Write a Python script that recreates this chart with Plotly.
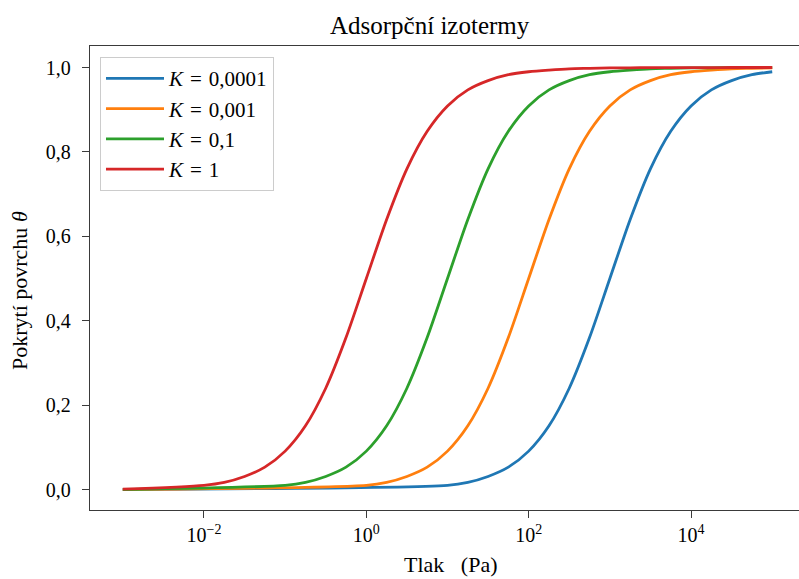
import plotly.graph_objects as go

# pressure grid (Pa), quarter-decade steps from 1e-2 to 1e5
grid = [0.01, 0.0178, 0.0316, 0.0562, 0.1, 0.178, 0.316, 0.562,
        1, 1.78, 3.16, 5.62, 10, 17.8, 31.6, 56.2,
        100, 178, 316, 562, 1000, 1780, 3160, 5620,
        10000, 17800, 31600, 56200, 100000]

p_blue = [0.001] + grid[12:]
p_orange = [0.001] + grid[8:]
p_green = [0.001] + grid[4:]
p_red = [0.001] + grid

theta_blue = [0.0, 0.010, 0.017, 0.031, 0.053, 0.091, 0.151, 0.240, 0.360,
              0.500, 0.640, 0.760, 0.849, 0.909, 0.947, 0.969, 0.983, 0.990]
theta_orange = [0.0, 0.010, 0.017, 0.031, 0.053, 0.091, 0.151, 0.240, 0.360,
                0.500, 0.640, 0.760, 0.849, 0.909, 0.947, 0.969, 0.983, 0.990,
                0.994, 0.997, 0.998, 0.999]
theta_green = [0.0, 0.010, 0.017, 0.031, 0.053, 0.091, 0.151, 0.240, 0.360,
               0.500, 0.640, 0.760, 0.849, 0.909, 0.947, 0.969, 0.983, 0.990,
               0.994, 0.997, 0.998, 0.999, 0.9994, 0.9997, 0.9998, 0.9999]
theta_red = [0.001, 0.010, 0.017, 0.031, 0.053, 0.091, 0.151, 0.240, 0.360,
             0.500, 0.640, 0.760, 0.849, 0.909, 0.947, 0.969, 0.983, 0.990,
             0.994, 0.997, 0.998, 0.999, 0.9994, 0.9997, 0.9998, 0.9999,
             0.9999, 1.0, 1.0, 1.0]

labels = ["<i>K</i>\u2004=\u20040,0001", "<i>K</i>\u2004=\u20040,001",
          "<i>K</i>\u2004=\u20040,1", "<i>K</i>\u2004=\u20041"]
colors = ["#1f77b4", "#ff7f0e", "#2ca02c", "#d62728"]

x_tickvals = [1e-2, 1, 1e2, 1e4]
x_ticktext = ["10<sup>−2</sup>", "10<sup>0</sup>", "10<sup>2</sup>", "10<sup>4</sup>"]
y_tickvals = [0, 0.2, 0.4, 0.6, 0.8, 1.0]
y_ticktext = ["0,0", "0,2", "0,4", "0,6", "0,8", "1,0"]

FONT = "Liberation Serif"
fig = go.Figure()
for i, (p, th) in enumerate([(p_blue, theta_blue), (p_orange, theta_orange),
                             (p_green, theta_green), (p_red, theta_red)]):
    fig.add_trace(go.Scatter(x=p, y=th, mode="lines", name=labels[i],
                             legendgroup=str(i),
                             line=dict(color=colors[i], width=2.8, shape="spline", smoothing=0.8)))

axis_col = "#3a3a3a"
fig.update_layout(
    width=799, height=579,
    margin=dict(l=90, r=0, t=46, b=69),
    paper_bgcolor="white", plot_bgcolor="white",
    font=dict(family=FONT, size=20, color="black"),
    showlegend=True,
    legend=dict(x=0.0141, y=0.976, xanchor="left", yanchor="top",
                bgcolor="white", bordercolor="#cccccc", borderwidth=1,
                font=dict(family=FONT, size=21), tracegroupgap=0,
                itemwidth=58),
    xaxis=dict(type="log", range=[-3.404, 5.33], showgrid=False, zeroline=False,
               showline=True, linecolor=axis_col, linewidth=1.3, mirror=True,
               ticks="outside", ticklen=7, tickwidth=1.2, tickcolor=axis_col,
               tickvals=x_tickvals, ticktext=x_ticktext,
               tickfont=dict(family=FONT, size=20)),
    yaxis=dict(range=[-0.0485, 1.051], showgrid=False, zeroline=False,
               showline=True, linecolor=axis_col, linewidth=1.3, mirror=False,
               ticks="outside", ticklen=7, tickwidth=1.2, tickcolor=axis_col,
               tickvals=y_tickvals, ticktext=y_ticktext, ticklabelstandoff=7,
               tickfont=dict(family=FONT, size=20)),
    annotations=[
        dict(text="Adsorpční izotermy", xref="paper", yref="paper",
             x=0.4795, y=1.045, xanchor="center", yanchor="middle",
             showarrow=False, font=dict(family=FONT, size=25)),
        dict(text="Tlak\u2002 (Pa)", xref="paper", yref="paper",
             x=0.508, y=-0.1185, xanchor="center", yanchor="middle",
             showarrow=False, font=dict(family=FONT, size=22)),
        dict(text="Pokrytí povrchu <i>θ</i>", xref="paper", yref="paper",
             x=-0.0987, y=0.472, xanchor="center", yanchor="middle",
             textangle=-90, showarrow=False, font=dict(family=FONT, size=22)),
    ],
)

fig.write_html("out.html", config={"displayModeBar": False},
               post_script="document.body.style.margin='0';")
